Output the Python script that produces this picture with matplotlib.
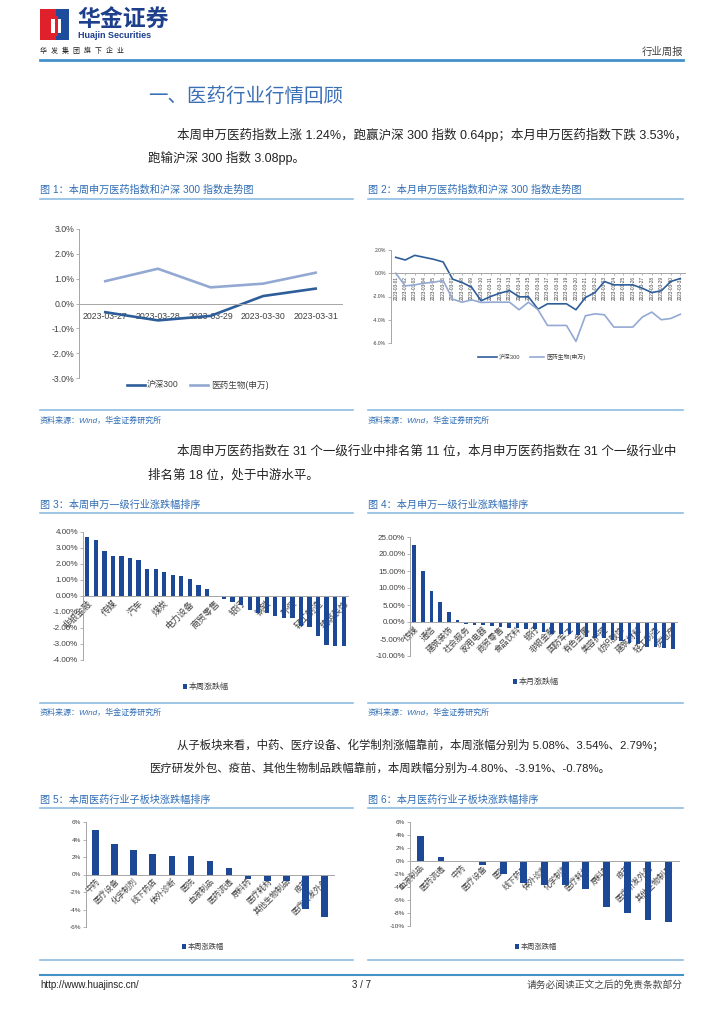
import matplotlib
matplotlib.use('Agg')
import matplotlib.pyplot as plt
from matplotlib.lines import Line2D
from matplotlib.patches import Rectangle
import matplotlib.ticker as mticker

plt.rcParams['font.family'] = ['Liberation Sans', 'Noto Sans CJK SC', 'DejaVu Sans']
plt.rcParams['axes.unicode_minus'] = False

# ---------------- data ----------------
week_dates = ['2023-03-27', '2023-03-28', '2023-03-29', '2023-03-30', '2023-03-31']
week_hs300 = [-0.35, -0.68, -0.50, 0.30, 0.60]
week_med = [0.90, 1.40, 0.65, 0.80, 1.24]

month_dates = ['2023-03-01', '2023-03-02', '2023-03-03', '2023-03-04', '2023-03-05', '2023-03-06',
               '2023-03-07', '2023-03-08', '2023-03-09', '2023-03-10', '2023-03-11', '2023-03-12',
               '2023-03-13', '2023-03-14', '2023-03-15', '2023-03-16', '2023-03-17', '2023-03-18',
               '2023-03-19', '2023-03-20', '2023-03-21', '2023-03-22', '2023-03-23', '2023-03-24',
               '2023-03-25', '2023-03-26', '2023-03-27', '2023-03-28', '2023-03-29', '2023-03-30',
               '2023-03-31']
month_hs300 = [1.37, 1.14, 1.54, 1.37, 1.20, 0.97, -0.51, -0.80, -1.20, -2.37, -2.00, -1.71, -1.49,
               -2.03, -2.03, -3.09, -2.63, -2.63, -2.63, -3.14, -2.09, -1.66, -0.71, -1.00, -1.00,
               -1.00, -1.29, -1.66, -1.51, -0.71, -0.45]
month_med = [0.00, -1.09, -1.00, -0.86, -0.77, -0.63, -2.23, -2.49, -2.29, -2.51, -2.49, -2.49, -2.49,
             -3.14, -2.49, -3.14, -4.49, -4.49, -4.49, -5.86, -3.66, -3.49, -3.57, -4.63, -4.63,
             -4.63, -3.77, -3.34, -4.00, -3.89, -3.53]

ind_week_names = ['非银金融', '计算机', '通信', '传媒', '石油石化', '电子', '汽车', '机械设备', '国防军工',
                  '煤炭', '医药生物', '美容护理', '电力设备', '公用事业', '家用电器', '商贸零售', '食品饮料',
                  '基础化工', '银行', '有色金属', '交通运输', '钢铁', '农林牧渔', '纺织服饰', '环保',
                  '社会服务', '综合', '轻工制造', '建筑材料', '房地产', '建筑装饰']
ind_week_vals = [3.69, 3.52, 2.80, 2.47, 2.47, 2.36, 2.24, 1.70, 1.68, 1.51, 1.31, 1.22, 1.06, 0.68,
                 0.46, -0.05, -0.20, -0.35, -0.58, -0.87, -1.04, -1.08, -1.22, -1.37, -1.39, -1.87,
                 -1.91, -2.47, -3.08, -3.10, -3.12]

ind_month_names = ['传媒', '计算机', '通信', '电子', '建筑装饰', '石油石化', '社会服务', '机械设备', '家用电器',
                   '公用事业', '商贸零售', '汽车', '食品饮料', '环保', '银行', '交通运输', '非银金融', '医药生物',
                   '国防军工', '基础化工', '有色金属', '农林牧渔', '美容护理', '综合', '纺织服饰', '煤炭',
                   '建筑材料', '电力设备', '轻工制造', '钢铁', '房地产']
ind_month_vals = [22.6, 15.0, 9.2, 5.9, 3.0, 0.7, -0.5, -0.9, -1.0, -1.3, -1.6, -1.75, -1.8, -2.0, -2.2,
                  -3.0, -3.4, -3.53, -3.6, -3.9, -4.5, -4.8, -4.8, -5.2, -5.6, -6.1, -6.6, -7.3, -7.3,
                  -7.6, -7.9]

sub_week_names = ['中药', '医疗设备', '化学制剂', '线下药店', '体外诊断', '医院', '血液制品', '医药流通',
                  '原料药', '医疗耗材', '其他生物制品', '疫苗', '医疗研发外包']
sub_week_vals = [5.08, 3.54, 2.79, 2.40, 2.06, 2.06, 1.60, 0.80, -0.50, -0.69, -0.78, -3.91, -4.80]

sub_month_names = ['血液制品', '医药流通', '中药', '医疗设备', '医院', '线下药店', '体外诊断', '化学制剂',
                   '医疗耗材', '原料药', '疫苗', '医疗研发外包', '其他生物制品']
sub_month_vals = [3.90, 0.56, 0.03, -0.67, -1.95, -3.33, -3.74, -3.74, -4.26, -7.08, -8.00, -9.13, -9.38]

# ---------------- page setup ----------------
W, H = 724, 1024
fig = plt.figure(figsize=(W / 100, H / 100), dpi=100)
fig.patch.set_facecolor('white')

BLUE_TXT = '#2F6DB5'
RULE = '#8FBCE3'
BAR = '#1C4895'
DARK_LINE = '#2E5E99'
LIGHT_LINE = '#93A9D3'
GRAY = '#404040'
BODY = '#222222'


def fy(y):
    return 1 - y / H


def text_px(x, y, s, **kw):
    kw.setdefault('va', 'center')
    fig.text(x / W, fy(y), s, **kw)


def hline(x0, x1, y, color=RULE, lw=1.2):
    fig.add_artist(Line2D([x0 / W, x1 / W], [fy(y), fy(y)], color=color, lw=lw))


def ax_px(x0, y0, x1, y1):
    return fig.add_axes([x0 / W, 1 - y1 / H, (x1 - x0) / W, (y1 - y0) / H])


def style_axes(ax, lab_size):
    ax.set_facecolor('none')
    for s in ['top', 'right']:
        ax.spines[s].set_visible(False)
    for s in ['left', 'bottom']:
        ax.spines[s].set_color('#A6A6A6')
        ax.spines[s].set_linewidth(0.7)
    ax.spines['bottom'].set_position(('data', 0))
    ax.tick_params(axis='y', labelsize=lab_size, colors='#A6A6A6', labelcolor=GRAY, length=2, width=0.6, pad=1.5)
    ax.tick_params(axis='x', labelsize=lab_size, colors='#A6A6A6', labelcolor=GRAY, length=2, width=0.6, pad=1)


# ---------------- header ----------------
fig.add_artist(Rectangle((40 / W, fy(40)), 16 / W, 31 / H, transform=fig.transFigure, color='#E0202A', lw=0))
fig.add_artist(Rectangle((56 / W, fy(40)), 13 / W, 31 / H, transform=fig.transFigure, color='#1D4C9C', lw=0))
fig.add_artist(Rectangle((51 / W, fy(33)), 10 / W, 14 / H, transform=fig.transFigure, color='white', lw=0))
fig.add_artist(Rectangle((55 / W, fy(36)), 3 / W, 20 / H, transform=fig.transFigure, color='#E0202A', lw=0))
text_px(77, 20, '华金证券', fontsize=16.5, fontweight='bold', color='#1D3F8C')
text_px(78, 36, 'Huajin Securities', fontsize=6.5, fontweight='bold', color='#1D3F8C')
text_px(40, 51, '华  发  集  团  旗  下  企  业', fontsize=5, color=BODY)
text_px(683, 52, '行业周报', fontsize=7.5, color='#444444', ha='right')
hline(40, 683, 60, color='#4391C9', lw=2)

# ---------------- title & paragraph 1 ----------------
text_px(148, 97, '一、医药行业行情回顾', fontsize=14, color='#3A6FB6')
text_px(177, 135, '本周申万医药指数上涨 1.24%，跑赢沪深 300 指数 0.64pp；本月申万医药指数下跌 3.53%，',
        fontsize=9.0, color=BODY)
text_px(148, 158, '跑输沪深 300 指数 3.08pp。', fontsize=9.0, color=BODY)

text_px(40, 190, '图 1：本周申万医药指数和沪深 300 指数走势图', fontsize=7.3, color=BLUE_TXT)
text_px(368, 190, '图 2：本月申万医药指数和沪深 300 指数走势图', fontsize=7.3, color=BLUE_TXT)
hline(40, 353, 199)
hline(368, 683, 199)

# ---------------- chart 1 ----------------
ax1 = ax_px(79, 229, 342, 378)
style_axes(ax1, 6.3)
x1 = list(range(len(week_dates)))
ax1.plot(x1, week_hs300, color=DARK_LINE, lw=1.9)
ax1.plot(x1, week_med, color=LIGHT_LINE, lw=1.9)
ax1.set_xlim(-0.5, len(week_dates) - 0.5)
ax1.set_ylim(-3, 3)
ax1.set_yticks([3, 2, 1, 0, -1, -2, -3])
ax1.yaxis.set_major_formatter(mticker.FuncFormatter(lambda v, p: f'{v:.1f}%'))
ax1.set_xticks(x1)
ax1.set_xticklabels(week_dates)
ax1.tick_params(axis='x', length=0, pad=6)
fig.add_artist(Line2D([127 / W, 145 / W], [fy(385), fy(385)], color=DARK_LINE, lw=1.9))
text_px(147, 385, '沪深300', fontsize=6.2, color=GRAY)
fig.add_artist(Line2D([190 / W, 208 / W], [fy(385), fy(385)], color=LIGHT_LINE, lw=1.9))
text_px(211, 385, '医药生物(申万)', fontsize=6.2, color=GRAY)

# ---------------- chart 2 ----------------
ax2 = ax_px(391, 250, 685, 343)
style_axes(ax2, 3.6)
x2 = list(range(len(month_dates)))
ax2.plot(x2, month_hs300, color=DARK_LINE, lw=1.2)
ax2.plot(x2, month_med, color=LIGHT_LINE, lw=1.2)
ax2.set_xlim(-0.5, len(month_dates) - 0.5)
ax2.set_ylim(-6, 2)
ax2.set_yticks([2, 0, -2, -4, -6])
ax2.yaxis.set_major_formatter(mticker.FuncFormatter(lambda v, p: f'{v:.1f}%'))
ax2.set_xticks(x2)
ax2.set_xticklabels(month_dates, rotation=90, va='top', ha='center')
ax2.tick_params(axis='x', length=1.5, labelsize=3.4, pad=0.5)
fig.add_artist(Line2D([478 / W, 497 / W], [fy(357), fy(357)], color=DARK_LINE, lw=1.2))
text_px(499, 357, '沪深300', fontsize=4.2, color=GRAY)
fig.add_artist(Line2D([530 / W, 544 / W], [fy(357), fy(357)], color=LIGHT_LINE, lw=1.2))
text_px(546, 357, '医药生物(申万)', fontsize=4.2, color=GRAY)

hline(40, 353, 410)
hline(368, 683, 410)
text_px(40, 421, '资料来源：Wind，华金证券研究所', fontsize=5.8, color=BLUE_TXT, style='italic')
text_px(368, 421, '资料来源：Wind，华金证券研究所', fontsize=5.8, color=BLUE_TXT, style='italic')

# ---------------- paragraph 2 ----------------
text_px(177, 451, '本周申万医药指数在 31 个一级行业中排名第 11 位，本月申万医药指数在 31 个一级行业中',
        fontsize=9.0, color=BODY)
text_px(148, 475, '排名第 18 位，处于中游水平。', fontsize=9.0, color=BODY)

text_px(40, 505, '图 3：本周申万一级行业涨跌幅排序', fontsize=7.3, color=BLUE_TXT)
text_px(368, 505, '图 4：本月申万一级行业涨跌幅排序', fontsize=7.3, color=BLUE_TXT)
hline(40, 353, 513)
hline(368, 683, 513)


def bar_chart(ax, names, vals, width, ylim, yticks, fmt, every, lab_size, xlab_size):
    style_axes(ax, lab_size)
    xs = list(range(len(vals)))
    ax.bar(xs, vals, width=width, color=BAR, zorder=2)
    ax.set_xlim(-0.5, len(vals) - 0.5)
    ax.set_ylim(*ylim)
    ax.set_yticks(yticks)
    ax.yaxis.set_major_formatter(mticker.FuncFormatter(fmt))
    ax.set_xticks(xs)
    labels = [n if i % every == 0 else '' for i, n in enumerate(names)]
    ax.set_xticklabels(labels, rotation=45, ha='right', va='top', rotation_mode='anchor',
                       fontsize=xlab_size, color=GRAY)
    ax.tick_params(axis='x', length=0, pad=2)
    for t in ax.get_xticklabels():
        t.set_zorder(5)


# ---------------- chart 3 ----------------
ax3 = ax_px(83, 532, 348, 660)
bar_chart(ax3, ind_week_names, ind_week_vals, 0.5, (-4, 4), [4, 3, 2, 1, 0, -1, -2, -3, -4],
          lambda v, p: f'{v:.2f}%', 3, 5.8, 6.5)
fig.add_artist(Rectangle((183 / W, fy(689)), 4 / W, 5 / H, transform=fig.transFigure, color=BAR, lw=0))
text_px(189, 687, '本周涨跌幅', fontsize=5.8, color=GRAY)

# ---------------- chart 4 ----------------
ax4 = ax_px(410, 537, 677, 656)
bar_chart(ax4, ind_month_names, ind_month_vals, 0.42, (-10, 25), [25, 20, 15, 10, 5, 0, -5, -10],
          lambda v, p: f'{v:.2f}%', 2, 5.8, 6.0)
fig.add_artist(Rectangle((513 / W, fy(684)), 4 / W, 5 / H, transform=fig.transFigure, color=BAR, lw=0))
text_px(519, 682, '本月涨跌幅', fontsize=5.8, color=GRAY)

hline(40, 353, 703)
hline(368, 683, 703)
text_px(40, 713, '资料来源：Wind，华金证券研究所', fontsize=5.8, color=BLUE_TXT, style='italic')
text_px(368, 713, '资料来源：Wind，华金证券研究所', fontsize=5.8, color=BLUE_TXT, style='italic')

# ---------------- paragraph 3 ----------------
text_px(177, 745, '从子板块来看，中药、医疗设备、化学制剂涨幅靠前，本周涨幅分别为 5.08%、3.54%、2.79%；',
        fontsize=8.2, color=BODY)
text_px(150, 768, '医疗研发外包、疫苗、其他生物制品跌幅靠前，本周跌幅分别为-4.80%、-3.91%、-0.78%。',
        fontsize=8.2, color=BODY)

text_px(40, 800, '图 5：本周医药行业子板块涨跌幅排序', fontsize=7.3, color=BLUE_TXT)
text_px(368, 800, '图 6：本月医药行业子板块涨跌幅排序', fontsize=7.3, color=BLUE_TXT)
hline(40, 353, 808)
hline(368, 683, 808)

# ---------------- chart 5 ----------------
ax5 = ax_px(86, 822, 334, 927)
bar_chart(ax5, sub_week_names, sub_week_vals, 0.35, (-6, 6), [6, 4, 2, 0, -2, -4, -6],
          lambda v, p: f'{v:.0f}%', 1, 4.6, 5.8)
fig.add_artist(Rectangle((182 / W, fy(949)), 4 / W, 5 / H, transform=fig.transFigure, color=BAR, lw=0))
text_px(188, 947, '本周涨跌幅', fontsize=5.2, color=GRAY)

# ---------------- chart 6 ----------------
ax6 = ax_px(410, 822, 679, 926)
bar_chart(ax6, sub_month_names, sub_month_vals, 0.33, (-10, 6), [6, 4, 2, 0, -2, -4, -6, -8, -10],
          lambda v, p: f'{v:.0f}%', 1, 4.6, 5.8)
fig.add_artist(Rectangle((515 / W, fy(949)), 4 / W, 5 / H, transform=fig.transFigure, color=BAR, lw=0))
text_px(521, 947, '本周涨跌幅', fontsize=5.2, color=GRAY)

hline(40, 353, 960)
hline(368, 683, 960)

# ---------------- footer ----------------
hline(40, 683, 975, color='#4391C9', lw=1.5)
text_px(40, 985, 'http://www.huajinsc.cn/', fontsize=7, color=BODY)
text_px(362, 985, '3 / 7', fontsize=7, color=BODY, ha='center')
text_px(683, 985, '请务必阅读正文之后的免责条款部分', fontsize=7, color='#444444', ha='right')

fig.savefig('out.png', dpi=100)
